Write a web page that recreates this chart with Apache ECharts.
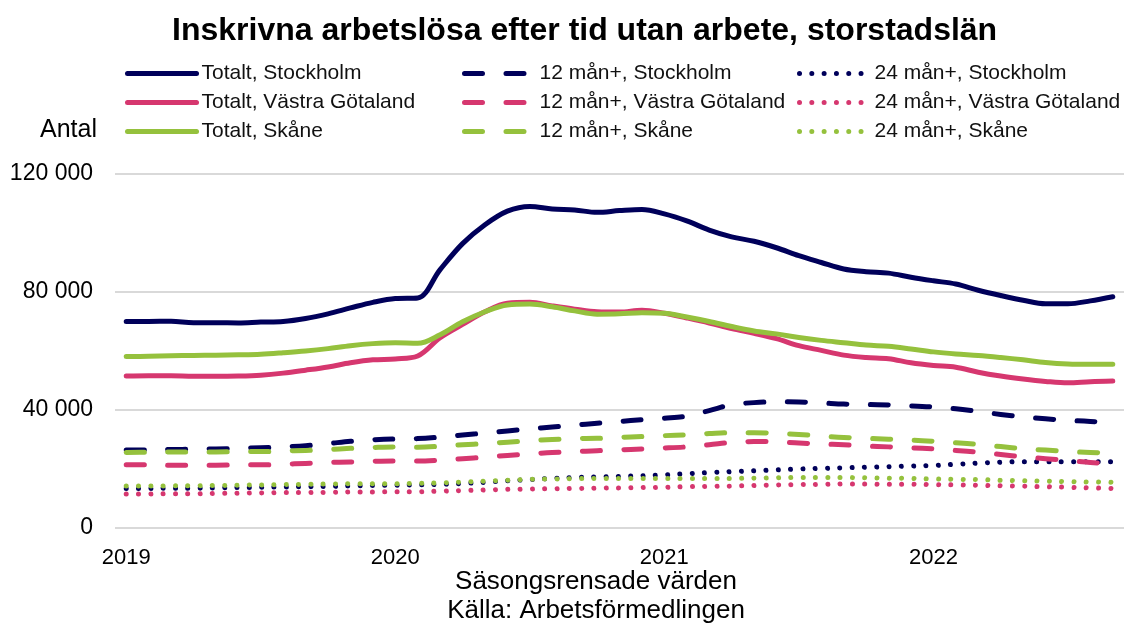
<!DOCTYPE html>
<html>
<head>
<meta charset="utf-8">
<script src="https://cdn.jsdelivr.net/npm/echarts@6/dist/echarts.min.js"></script>
<style>
  html, body { margin: 0; padding: 0; background: #fff; }
  #main { width: 1124px; height: 628px; }
</style>
</head>
<body>
<div id="main"></div>
<script>
// months, jan 2019 - sep 2022
const months = [
  '2019-01','2019-02','2019-03','2019-04','2019-05','2019-06','2019-07','2019-08','2019-09','2019-10','2019-11','2019-12',
  '2020-01','2020-02','2020-03','2020-04','2020-05','2020-06','2020-07','2020-08','2020-09','2020-10','2020-11','2020-12',
  '2021-01','2021-02','2021-03','2021-04','2021-05','2021-06','2021-07','2021-08','2021-09','2021-10','2021-11','2021-12',
  '2022-01','2022-02','2022-03','2022-04','2022-05','2022-06','2022-07','2022-08','2022-09'
];
const yTicks = [0, 40, 80, 120]; // tusental

// values in thousands
const totStockholm = [70.0,70.0,70.1,69.6,69.6,69.5,69.8,70.0,71.0,72.6,74.6,76.5,
  77.8,78.0,87.6,96.4,102.8,107.4,109.0,108.1,107.8,107.0,107.6,108.0,
  106.5,104.1,101.0,98.7,97.2,95.0,92.3,90.0,87.8,86.9,86.4,85.0,
  83.8,82.7,80.6,78.8,77.2,76.0,76.0,77.0,78.4];
const totVG = [51.5,51.6,51.6,51.4,51.4,51.5,51.8,52.5,53.5,54.6,56.0,57.0,
  57.3,58.3,64.5,69.0,73.3,76.2,76.5,75.3,74.2,73.3,73.2,73.8,
  72.8,71.2,69.5,67.6,66.0,64.2,61.8,60.2,58.6,57.8,57.4,56.0,
  55.1,54.5,52.8,51.5,50.5,49.7,49.2,49.6,49.8];
const totSkane = [58.1,58.2,58.4,58.5,58.6,58.7,58.9,59.4,60.0,60.8,61.8,62.5,
  62.8,62.6,65.5,69.9,73.3,75.6,75.9,75.0,73.6,72.5,72.6,73.0,
  72.8,71.5,70.0,68.3,66.8,65.8,64.6,63.6,62.8,62.0,61.6,60.7,
  59.7,59.0,58.5,57.8,57.0,56.1,55.6,55.5,55.5];

const m12Stockholm = [26.4,26.5,26.6,26.7,26.8,27.0,27.2,27.5,27.9,28.6,29.4,29.9,
  30.2,30.3,30.8,31.5,32.2,32.9,33.6,34.2,34.9,35.5,36.1,36.7,
  37.2,37.9,39.8,41.8,42.5,42.8,42.7,42.4,42.0,41.9,41.7,41.4,
  41.0,40.4,39.5,38.5,37.7,37.0,36.5,36.1,35.9];
const m12VG = [21.4,21.4,21.3,21.3,21.3,21.4,21.4,21.6,21.9,22.2,22.4,22.6,
  22.7,22.7,23.0,23.5,24.0,24.6,25.1,25.6,25.9,26.2,26.5,26.8,
  27.1,27.5,28.2,29.0,29.3,29.2,28.8,28.5,28.2,27.8,27.5,27.2,
  26.8,26.3,25.7,24.9,24.1,23.5,22.9,22.2,21.8];
const m12Skane = [25.6,25.7,25.8,25.8,25.8,25.9,25.9,26.1,26.3,26.6,27.0,27.3,
  27.5,27.4,27.7,28.2,28.6,29.1,29.6,30.0,30.3,30.4,30.7,31.0,
  31.3,31.6,32.0,32.3,32.3,32.1,31.7,31.2,30.7,30.4,30.1,29.8,
  29.4,28.9,28.3,27.6,26.9,26.4,25.9,25.6,25.4];

const m24Stockholm = [13.4,13.4,13.5,13.5,13.6,13.7,13.8,13.9,14.0,14.1,14.3,14.4,
  14.5,14.6,14.8,15.1,15.5,16.0,16.4,16.8,17.1,17.3,17.5,17.7,
  18.0,18.4,18.8,19.1,19.4,19.7,20.0,20.2,20.4,20.6,20.8,21.0,
  21.2,21.6,22.0,22.3,22.5,22.5,22.5,22.5,22.5];
const m24VG = [11.5,11.5,11.6,11.6,11.7,11.8,11.9,12.0,12.0,12.1,12.2,12.2,
  12.3,12.3,12.5,12.7,12.9,13.1,13.2,13.3,13.4,13.5,13.6,13.7,
  13.8,14.0,14.1,14.2,14.4,14.6,14.7,14.8,14.9,14.9,14.8,14.8,
  14.7,14.6,14.5,14.3,14.2,14.0,13.8,13.6,13.4];
const m24Skane = [14.2,14.2,14.3,14.3,14.4,14.5,14.6,14.7,14.8,14.9,15.0,15.0,
  15.0,15.1,15.3,15.6,15.9,16.2,16.5,16.6,16.7,16.8,16.8,16.8,
  16.8,16.8,16.8,16.8,16.9,17.0,17.1,17.1,17.1,17.0,16.9,16.8,
  16.6,16.5,16.4,16.2,16.0,15.9,15.7,15.6,15.5];

const NAVY = '#00005a', PINK = '#d6376f', GREEN = '#95c13d';
const FONT = '"Liberation Sans", Arial, sans-serif';

const solid = 'solid';
const dashed = [18, 23.5];
const dotted = [0.01, 12.3];

function mkSeries(name, data, color, type, width) {
  return {
    name: name,
    type: 'line',
    data: data,
    smooth: 0.35,
    symbol: 'none',
    color: color,
    lineStyle: { color: color, width: width, type: type, cap: 'round', join: 'round' },
    emphasis: { disabled: true }
  };
}

// excel order: row by row in legend
const series = [
  mkSeries('Totalt, Stockholm', totStockholm, NAVY, solid, 5),
  mkSeries('12 mån+, Stockholm', m12Stockholm, NAVY, dashed, 5),
  mkSeries('24 mån+, Stockholm', m24Stockholm, NAVY, dotted, 5),
  mkSeries('Totalt, Västra Götaland', totVG, PINK, solid, 5),
  mkSeries('12 mån+, Västra Götaland', m12VG, PINK, dashed, 5),
  mkSeries('24 mån+, Västra Götaland', m24VG, PINK, dotted, 5),
  mkSeries('Totalt, Skåne', totSkane, GREEN, solid, 5),
  mkSeries('12 mån+, Skåne', m12Skane, GREEN, dashed, 5),
  mkSeries('24 mån+, Skåne', m24Skane, GREEN, dotted, 5)
];

function mkLegend(left, names, itemWidth) {
  return {
    left: left,
    top: 63,
    orient: 'vertical',
    padding: 0,
    itemGap: 8,
    itemWidth: itemWidth,
    itemHeight: 10,
    selectedMode: false,
    data: names,
    lineStyle: { width: 5 },
    // hide the circle that line legend icons get
    itemStyle: { color: 'rgba(0,0,0,0)', borderWidth: 0, opacity: 0 },
    textStyle: { fontFamily: FONT, fontSize: 21, color: '#111', lineHeight: 21, padding: 0 }
  };
}

var myChart = echarts.init(document.getElementById('main'), null, { renderer: 'canvas' });
var option = {
  animation: false,
  backgroundColor: '#fff',
  title: {
    text: 'Inskrivna arbetslösa efter tid utan arbete, storstadslän',
    left: 172,
    top: 15,
    padding: 0,
    textStyle: { fontFamily: FONT, fontSize: 32, fontWeight: 'bold', color: '#000' }
  },
  legend: [
    mkLegend(125, ['Totalt, Stockholm', 'Totalt, Västra Götaland', 'Totalt, Skåne'], 69),
    mkLegend(462, ['12 mån+, Stockholm', '12 mån+, Västra Götaland', '12 mån+, Skåne'], 70),
    mkLegend(797, ['24 mån+, Stockholm', '24 mån+, Västra Götaland', '24 mån+, Skåne'], 70)
  ],
  grid: { left: 115, right: 0, top: 174, bottom: 100, containLabel: false },
  xAxis: {
    type: 'category',
    data: months,
    boundaryGap: true,
    axisLine: { show: false },
    axisTick: { show: false },
    splitLine: { show: false },
    axisLabel: {
      interval: 11,
      margin: 19,
      fontFamily: FONT,
      fontSize: 22,
      color: '#000',
      formatter: function (v) { return v.slice(0, 4); }
    }
  },
  yAxis: {
    type: 'value',
    min: yTicks[0],
    max: yTicks[yTicks.length - 1],
    interval: yTicks[1] - yTicks[0],
    axisLine: { show: false },
    axisTick: { show: false },
    splitLine: { lineStyle: { color: '#d9d9d9', width: 2 } },
    axisLabel: {
      margin: 22,
      fontFamily: FONT,
      fontSize: 23,
      color: '#000',
      formatter: function (v) { return v === 0 ? '0' : v + ' 000'; }
    }
  },
  graphic: [
    { type: 'text', left: 40, top: 118, style: { text: 'Antal', font: '25px ' + FONT, fill: '#000' } },
    { type: 'text', x: 596, y: 582, style: { text: 'Säsongsrensade värden', font: '26px ' + FONT, fill: '#000', align: 'center', verticalAlign: 'middle', textAlign: 'center', textVerticalAlign: 'middle' } },
    { type: 'text', x: 596, y: 611, style: { text: 'Källa: Arbetsförmedlingen', font: '26px ' + FONT, fill: '#000', align: 'center', verticalAlign: 'middle', textAlign: 'center', textVerticalAlign: 'middle' } }
  ],
  series: series
};
myChart.setOption(option);
</script>
</body>
</html>
